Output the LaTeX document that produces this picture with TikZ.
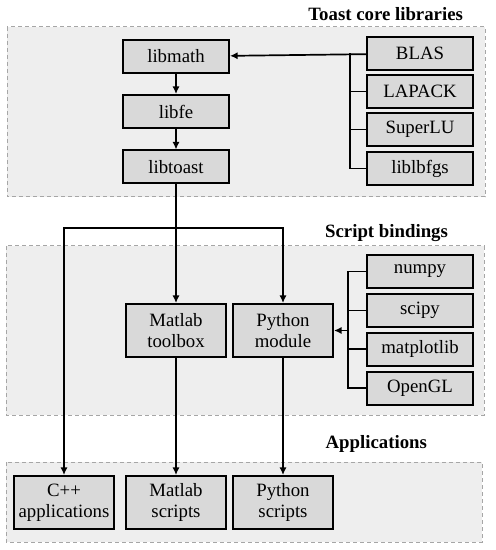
\documentclass[tikz,border=0pt]{standalone}
\usepackage{fontspec}
\setmainfont{Liberation Serif}
\usepackage{tikz}
\usetikzlibrary{arrows.meta}

\begin{document}
\begin{tikzpicture}[x=0.5pt, y=-0.5pt, >={Latex[length=3.8pt,width=3.6pt]},
  font=\fontsize{9.4}{10.5}\selectfont,
  bx/.style={draw, line width=1pt, fill=gray!30, align=center, inner sep=1pt,
    minimum width=53pt, minimum height=16.5pt},
  bx2/.style={bx, minimum width=50pt, minimum height=26.5pt},
  grp/.style={draw=gray!70, dashed, dash pattern=on 2pt off 1.5pt, line width=0.5pt, fill=gray!13},
  ttl/.style={font=\fontsize{9.4}{10.5}\selectfont\bfseries},
  ln/.style={line width=0.85pt}]
  \useasboundingbox (0,0) rectangle (495,550);

  % groups
  \draw[grp] (7,27) rectangle (485,197);
  \draw[grp] (6,246) rectangle (484,415);
  \draw[grp] (6,462) rectangle (482,542);
  \node[ttl, anchor=east] (t1) at (470,14)  {Toast core libraries};
  \node[ttl, anchor=east] (t2) at (455,233) {Script bindings};
  \node[ttl, anchor=east] (t3) at (434,444) {Applications};

  % core libraries
  \node[bx] (libmath)  at (176,56.5) {libmath};
  \node[bx] (libfe)    at (176,111.5) {libfe};
  \node[bx] (libtoast) at (176,167)  {libtoast};
  \node[bx] (blas)     at (420,53.5)  {BLAS};
  \node[bx] (lapack)   at (420,91.5)  {LAPACK};
  \node[bx] (superlu)  at (420,129.5) {SuperLU};
  \node[bx] (lbfgs)    at (420,168.5) {liblbfgs};

  % script bindings
  \node[bx2] (mtbx)  at (176,330.5) {Matlab\\ toolbox};
  \node[bx2] (pymod) at (283,330.5) {Python\\ module};
  \node[bx] (numpy)  at (420,271.5) {numpy};
  \node[bx] (scipy)  at (420,310.5) {scipy};
  \node[bx] (mpl)    at (420,349)   {matplotlib};
  \node[bx] (opengl) at (420,388)   {OpenGL};

  % applications
  \node[bx2] (cpp)   at (64,502.5)  {C++\\ applications};
  \node[bx2] (mscr)  at (176,502.5) {Matlab\\ scripts};
  \node[bx2] (pyscr) at (283,502.5) {Python\\ scripts};

  \coordinate (bus1)  at (350,53.5);
  \coordinate (bus2)  at (348,330.5);
  \coordinate (split) at (176,228);

  \draw[ln,->] (libmath) -- (libfe);
  \draw[ln,->] (libfe) -- (libtoast);
  \draw[ln,->] (blas) -- (libmath);
  \draw[ln] (bus1) |- (lbfgs.west);
  \foreach \n in {lapack,superlu}
    \draw[ln] (\n.west) -- (\n.west -| bus1);

  \draw[ln,->] (libtoast) -- (mtbx);
  \draw[ln,->] (split) -| (cpp);
  \draw[ln,->] (split) -| (pymod);

  \draw[ln,->] (bus2) -- (pymod);
  \draw[ln] (numpy.west) -| (opengl.west -| bus2) -- (opengl.west);
  \foreach \n in {scipy,mpl}
    \draw[ln] (\n.west) -- (\n.west -| bus2);

  \draw[ln,->] (mtbx) -- (mscr);
  \draw[ln,->] (pymod) -- (pyscr);
\end{tikzpicture}
\end{document}
